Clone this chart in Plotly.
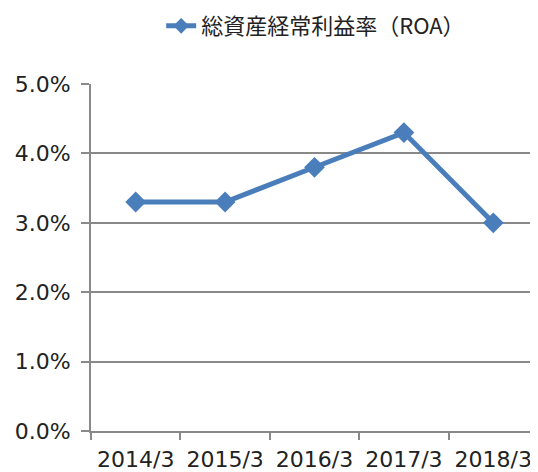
import plotly.graph_objects as go

categories = ["2014/3", "2015/3", "2016/3", "2017/3", "2018/3"]
roa = [0.033, 0.033, 0.038, 0.043, 0.030]
series_name = "総資産経常利益率（ROA）"

blue = "#4A7EBB"
gray = "#898989"

fig = go.Figure()
fig.add_trace(go.Scatter(
    x=categories, y=roa, name=series_name, mode="lines+markers",
    line=dict(color=blue, width=5),
    marker=dict(symbol="diamond", size=16, color=blue),
    showlegend=True,
))

fig.update_layout(
    width=530, height=464,
    margin=dict(l=83, r=0, t=76, b=41, autoexpand=False),
    paper_bgcolor="white", plot_bgcolor="white",
    font=dict(family="DejaVu Sans", size=22, color="#222222"),
    showlegend=True,
    legend=dict(orientation="h", x=0.157, xanchor="left", y=1.167, yanchor="middle",
                itemsizing="constant",
                font=dict(family="Noto Sans CJK JP", size=22, color="#222222")),
)
fig.update_xaxes(
    type="category", range=[-0.5, 4.5], tickson="boundaries", automargin=False,
    showline=True, linecolor=gray, linewidth=2,
    ticks="outside", ticklen=7, tickcolor=gray, tickwidth=2,
    showgrid=False, tickfont=dict(size=22), ticklabelstandoff=8,
)
fig.update_yaxes(
    range=[0, 0.05], dtick=0.01, tickformat=".1%", automargin=False,
    showline=True, linecolor=gray, linewidth=2,
    ticks="outside", ticklen=8, tickcolor=gray, tickwidth=2,
    showgrid=True, gridcolor=gray, gridwidth=2, zeroline=False,
    tickfont=dict(size=22), ticklabelstandoff=6,
)

fig.write_html("out.html")
